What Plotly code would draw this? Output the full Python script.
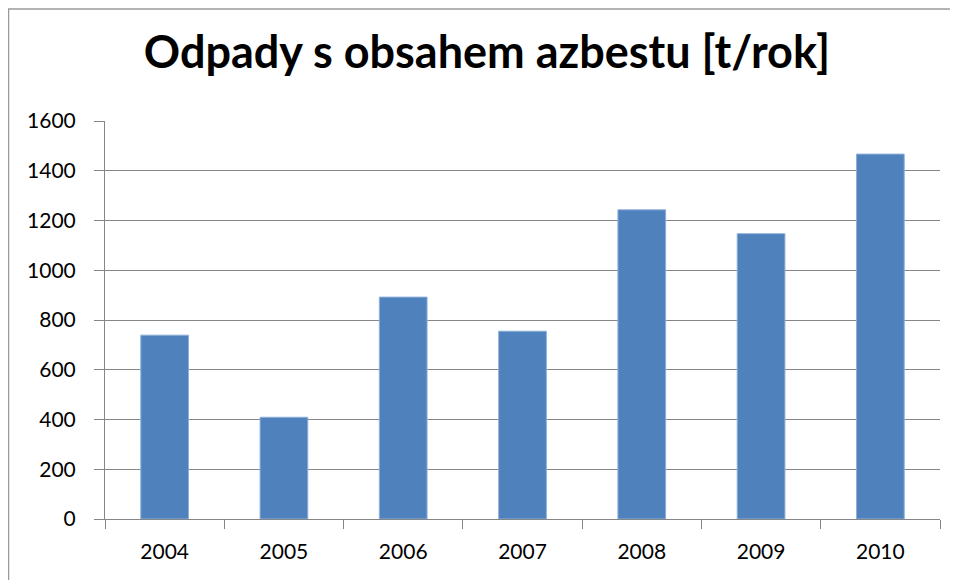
import plotly.graph_objects as go

years = ["2004", "2005", "2006", "2007", "2008", "2009", "2010"]
values = [739, 409, 892, 755, 1243, 1147, 1467]
y_ticks = [0, 200, 400, 600, 800, 1000, 1200, 1400, 1600]
title_text = "Odpady s obsahem azbestu [t/rok]"

W, H = 958, 580
ML, MR, MT, MB = 97, 26, 113, 69
PW, PH = W - ML - MR, H - MT - MB

fig = go.Figure(go.Bar(
    x=years, y=values,
    marker=dict(color="#4F81BD", line=dict(color="#8FB0DA", width=1)),
))

fig.update_layout(
    width=W, height=H,
    margin=dict(l=ML, r=MR, t=MT, b=MB),
    paper_bgcolor="white", plot_bgcolor="white",
    bargap=0.6,
    showlegend=False,
    font=dict(family="Lato, Carlito, Calibri, sans-serif", color="#000000", size=21),
    title=dict(text="<b>" + title_text + "</b>", x=0.5, xanchor="center",
               y=1 - 44 / H, yanchor="middle",
               font=dict(family="Lato, Carlito, Calibri, sans-serif", size=45, color="#000000")),
)

fig.update_xaxes(
    type="category",
    showline=True, linecolor="#868686", linewidth=1,
    ticks="outside", tickson="boundaries", ticklen=9, tickcolor="#868686", tickwidth=1,
    showgrid=False,
    ticklabelstandoff=14,
    tickfont=dict(size=21),
)
fig.update_yaxes(
    range=[0, 1600],
    tickvals=y_ticks,
    showline=True, linecolor="#868686", linewidth=1,
    ticks="outside", ticklen=10, tickcolor="#868686", tickwidth=1,
    showgrid=True, gridcolor="#868686", gridwidth=1,
    zeroline=False,
    ticklabelstandoff=14,
    tickfont=dict(size=21),
)

# outer chart frame (only left and top edges visible in the crop)
fig.add_shape(type="rect", xref="paper", yref="paper",
              x0=(0.5 - ML) / PW, x1=(W + 20 - ML) / PW,
              y0=-(MB + 20) / PH, y1=(MT - 1) / PH + 1,
              line=dict(color="#9a9a9a", width=1.5), layer="below")

fig.write_html("out.html")
